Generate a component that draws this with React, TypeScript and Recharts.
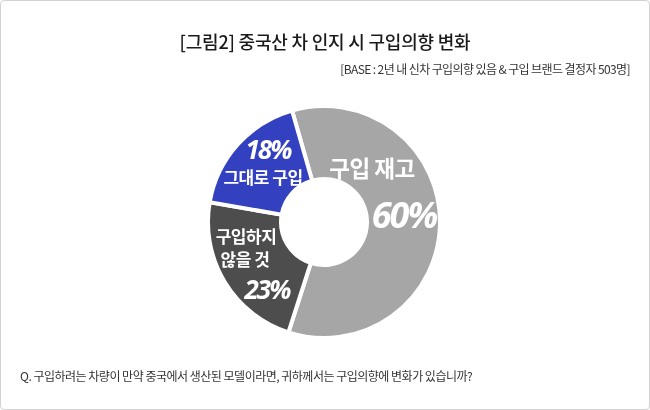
import React from 'react';
import { PieChart, Pie, Cell } from 'recharts';

const categories = ['구입 재고', '구입하지 않을 것', '그대로 구입'];
const shares = [60, 23, 18];
const sliceColors = ['#a6a6a6', '#4d4d4d', '#3340bf'];

const title = '[그림2] 중국산 차 인지 시 구입의향 변화';
const baseNote = '[BASE : 2년 내 신차 구입의향 있음 & 구입 브랜드 결정자 503명]';
const question = 'Q. 구입하려는 차량이 만약 중국에서 생산된 모델이라면, 귀하께서는 구입의향에 변화가 있습니까?';

const KR = '"Noto Sans CJK KR", "Noto Sans", sans-serif';
const NUM = '"Open Sans", "Noto Sans", sans-serif';

// label layout inside each slice, offsets from the pie centre
const labelLayout = [
  { lines: [{ dx: 48, dy: -55, size: 22.5 }], pct: { dx: 80, dy: -8, size: 36 } },
  { lines: [{ dx: -78, dy: 13, size: 17 }, { dx: -79, dy: 36, size: 17 }], pct: { dx: -57, dy: 67, size: 26 } },
  { lines: [{ dx: -61, dy: -46, size: 17 }], pct: { dx: -56, dy: -73, size: 26 } },
];
const labelLines = [['구입 재고'], ['구입하지', '않을 것'], ['그대로 구입']];

const data = categories.map((name, i) => ({ name, value: shares[i] }));

const renderLabel = (props: any) => {
  const { cx, cy, index, value } = props;
  const layout = labelLayout[index];
  return (
    <g>
      {labelLines[index].map((txt, j) => (
        <text
          key={j}
          x={cx + layout.lines[j].dx}
          y={cy + layout.lines[j].dy}
          fill="#fff"
          textAnchor="middle"
          dominantBaseline="central"
          style={{ fontFamily: KR, fontWeight: 700, fontSize: layout.lines[j].size, letterSpacing: -0.5 }}
        >
          {txt}
        </text>
      ))}
      <text
        x={cx + layout.pct.dx}
        y={cy + layout.pct.dy}
        fill="#fff"
        textAnchor="middle"
        dominantBaseline="central"
        style={{ fontFamily: NUM, fontWeight: 700, fontStyle: 'italic', fontSize: layout.pct.size, letterSpacing: -2 }}
      >
        {value}%
      </text>
    </g>
  );
};

export default function App() {
  return (
    <div
      style={{
        position: 'fixed',
        left: 0,
        top: 0,
        width: 650,
        height: 410,
        background: '#fff',
        boxSizing: 'border-box',
        border: '1px solid #d2d2d2',
        borderRadius: 4,
        fontFamily: KR,
        overflow: 'hidden',
      }}
    >
      <div
        style={{
          position: 'absolute',
          top: 27,
          left: 0,
          width: 648,
          textAlign: 'center',
          fontSize: 18,
          fontWeight: 500,
          color: '#1a1a1a',
          letterSpacing: -0.2,
        }}
      >
        {title}
      </div>
      <div
        style={{
          position: 'absolute',
          top: 59,
          right: 19,
          fontSize: 12,
          color: '#333',
          letterSpacing: -0.6,
        }}
      >
        {baseNote}
      </div>
      <div style={{ position: 'absolute', left: 0, top: 0 }}>
        <PieChart width={648} height={408} margin={{ top: 0, right: 0, bottom: 0, left: 0 }}>
          <Pie
            data={data}
            dataKey="value"
            nameKey="name"
            cx={323}
            cy={221}
            innerRadius={43}
            outerRadius={116}
            startAngle={106}
            endAngle={-254}
            stroke="#fff"
            strokeWidth={4}
            label={renderLabel}
            labelLine={false}
            isAnimationActive={false}
          >
            {data.map((d, i) => (
              <Cell key={d.name} fill={sliceColors[i]} />
            ))}
          </Pie>
        </PieChart>
      </div>
      <div
        style={{
          position: 'absolute',
          top: 366,
          left: 19,
          fontSize: 12,
          color: '#333',
          letterSpacing: -0.5,
        }}
      >
        {question}
      </div>
    </div>
  );
}
